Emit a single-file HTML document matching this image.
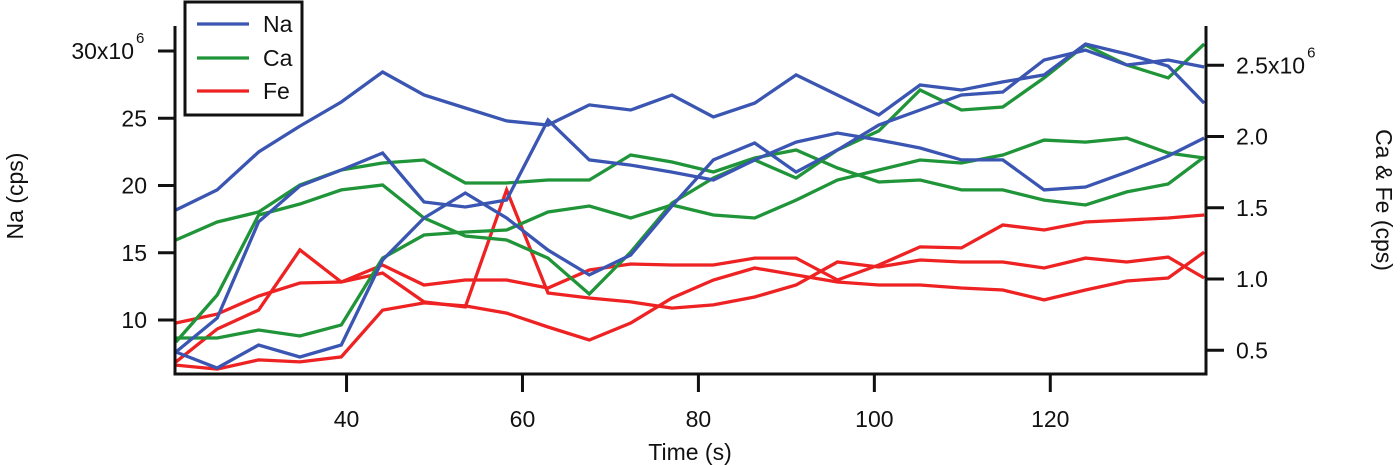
<!DOCTYPE html>
<html><head><meta charset="utf-8">
<style>
html,body{margin:0;padding:0;background:#fff;}
svg{display:block;font-family:"Liberation Sans",Arial,sans-serif;}
</style></head>
<body>
<svg id="chart" width="1400" height="465" viewBox="0 0 1400 465"></svg>
<script>
const times = [20.6,25.3,30.0,34.7,39.4,44.1,48.8,53.5,58.2,62.9,67.6,72.3,77.0,81.7,86.4,91.1,95.8,100.5,105.2,109.9,114.6,119.3,124.0,128.7,133.4,137.5];
const na1 = [18.18,19.67,22.49,24.42,26.21,28.44,26.73,25.76,24.80,24.50,25.99,25.61,26.73,25.09,26.13,28.22,26.73,25.24,27.47,27.10,27.70,28.22,30.52,29.78,28.88,26.13];
const na2 = [7.62,10.15,17.29,19.96,21.15,22.42,18.77,18.40,18.92,24.87,21.90,21.52,21.00,20.41,21.90,23.23,23.90,23.38,22.79,21.90,21.90,19.67,19.89,21.00,22.19,23.53];
const na3 = [7.62,6.43,8.14,7.25,8.14,14.46,17.58,19.44,17.58,15.20,13.35,14.83,18.48,21.90,23.16,21.00,22.64,24.50,25.61,26.73,26.95,29.33,30.07,28.96,29.33,28.81];
const ca1 = [1.274,1.400,1.470,1.660,1.765,1.814,1.835,1.674,1.674,1.695,1.695,1.870,1.821,1.751,1.849,1.905,1.779,1.681,1.695,1.625,1.625,1.554,1.519,1.611,1.667,1.856];
const ca2 = [0.558,0.888,1.449,1.526,1.625,1.660,1.428,1.302,1.274,1.147,0.895,1.189,1.533,1.709,1.835,1.709,1.905,2.039,2.326,2.186,2.207,2.411,2.642,2.502,2.411,2.649];
const ca3 = [0.586,0.586,0.642,0.600,0.677,1.147,1.309,1.330,1.344,1.470,1.512,1.428,1.519,1.449,1.428,1.554,1.695,1.765,1.835,1.814,1.870,1.975,1.961,1.989,1.884,1.849];
const fe1 = [0.691,0.754,0.881,0.972,0.979,1.098,0.958,0.993,0.993,0.937,1.063,1.105,1.098,1.098,1.147,1.147,0.993,1.098,1.225,1.218,1.379,1.344,1.400,1.414,1.428,1.449];
const fe2 = [0.418,0.649,0.782,1.204,0.979,1.042,0.839,0.804,1.625,0.902,0.867,0.839,0.796,0.818,0.874,0.958,1.119,1.084,1.133,1.119,1.119,1.077,1.147,1.119,1.154,1.007];
const fe3 = [0.396,0.368,0.432,0.418,0.453,0.782,0.832,0.811,0.761,0.663,0.572,0.691,0.867,0.993,1.077,1.028,0.979,0.958,0.958,0.937,0.923,0.853,0.923,0.986,1.007,1.189];
const xTicks = [40,60,80,100,120];
const leftTicks = [10,15,20,25,30];
const leftTickLabels = ["10","15","20","25","30x10"];
const rightTicks = [0.5,1.0,1.5,2.0,2.5];
const rightTickLabels = ["0.5","1.0","1.5","2.0","2.5x10"];

const NS="http://www.w3.org/2000/svg";
const svg=document.getElementById('chart');
const X0=175,X1=1206,Y0=26,Y1=374;
const FS=23;
function xS(t){return X0+(t-20.5)*(X1-X0)/(137.7-20.5);}
function yL(v){return 320-(v-10)*13.45;}
function yR(v){return 279-(v-1)*142.5;}
function mk(tag,attrs){const e=document.createElementNS(NS,tag);for(const k in attrs)e.setAttribute(k,attrs[k]);svg.appendChild(e);return e;}

const BLUE="#3a55b2",GREEN="#1f9438",RED="#ee2222";
function series(vals,scale,color,name){
  const d=vals.map((v,i)=>(i?"L":"M")+xS(times[i]).toFixed(1)+","+scale(v).toFixed(1)).join(" ");
  const p=mk('path',{d:d,fill:'none',stroke:color,'stroke-width':3.3,'stroke-linejoin':'miter'});
  
  
}
series(fe3,yR,RED,'fe-line-3');
series(fe2,yR,RED,'fe-line-2');
series(fe1,yR,RED,'fe-line-1');
series(ca3,yR,GREEN,'ca-line-3');
series(ca2,yR,GREEN,'ca-line-2');
series(ca1,yR,GREEN,'ca-line-1');
series(na3,yL,BLUE,'na-line-3');
series(na2,yL,BLUE,'na-line-2');
series(na1,yL,BLUE,'na-line-1');

const ax=mk('path',{d:`M${X0},${Y0} L${X0},${Y1} L${X1},${Y1} L${X1},${Y0}`,fill:'none',stroke:'#111','stroke-width':3});



xTicks.forEach(t=>{
  const x=xS(t);
  const tk=mk('line',{x1:x,y1:Y1,x2:x,y2:Y1+18,stroke:'#111','stroke-width':3});
  
  
  const tx=mk('text',{x:x,y:427,'font-size':FS,'text-anchor':'middle',fill:'#111'});
  tx.textContent=t;
  
  
});
leftTicks.forEach((v,i)=>{
  const y=yL(v);
  const tk=mk('line',{x1:X0-17,y1:y,x2:X0,y2:y,stroke:'#111','stroke-width':3});
  
  
  const tx=mk('text',{x:(i===4?134:147),y:y+8,'font-size':FS,'text-anchor':'end',fill:'#111'});
  tx.textContent=leftTickLabels[i];
  
  
});
const sup1=mk('text',{x:136,y:yL(30)-8,'font-size':15,'text-anchor':'start',fill:'#111'});
sup1.textContent="6";



let rightTopLabel=null;
rightTicks.forEach((v,i)=>{
  const y=yR(v);
  const tk=mk('line',{x1:X1,y1:y,x2:X1+18,y2:y,stroke:'#111','stroke-width':3});
  
  
  const tx=mk('text',{x:1236,y:y+8,'font-size':FS,'text-anchor':'start',fill:'#111'});
  tx.textContent=rightTickLabels[i];
  
  
  if(i===4) rightTopLabel=tx;
});
let supX=1300;
try{supX=1236+rightTopLabel.getComputedTextLength()+2;}catch(e){}
const sup2=mk('text',{x:supX,y:yR(2.5)-8,'font-size':15,fill:'#111'});
sup2.textContent="6";



const xt=mk('text',{x:690,y:460,'font-size':FS,'text-anchor':'middle',fill:'#111'});
xt.textContent="Time (s)";


const yt=mk('text',{x:0,y:0,'font-size':FS,'text-anchor':'middle',fill:'#111',transform:'translate(23,196) rotate(-90)'});
yt.textContent="Na (cps)";


const yt2=mk('text',{x:0,y:0,'font-size':FS,'text-anchor':'middle',fill:'#111',transform:'translate(1376,200) rotate(90)'});
yt2.textContent="Ca & Fe (cps)";



const lg=mk('rect',{x:185,y:2,width:117,height:113,fill:'#fff',stroke:'#111','stroke-width':3});


const legNames=["Na","Ca","Fe"],legCols=[BLUE,GREEN,RED],legY=[24,58,91];
legNames.forEach((n,i)=>{
  const l=mk('line',{x1:197,y1:legY[i],x2:249,y2:legY[i],stroke:legCols[i],'stroke-width':3.3});
  
  
  const t=mk('text',{x:263,y:legY[i]+8,'font-size':FS,fill:'#111'});
  t.textContent=n;
  
  
});
</script>
</body></html>
